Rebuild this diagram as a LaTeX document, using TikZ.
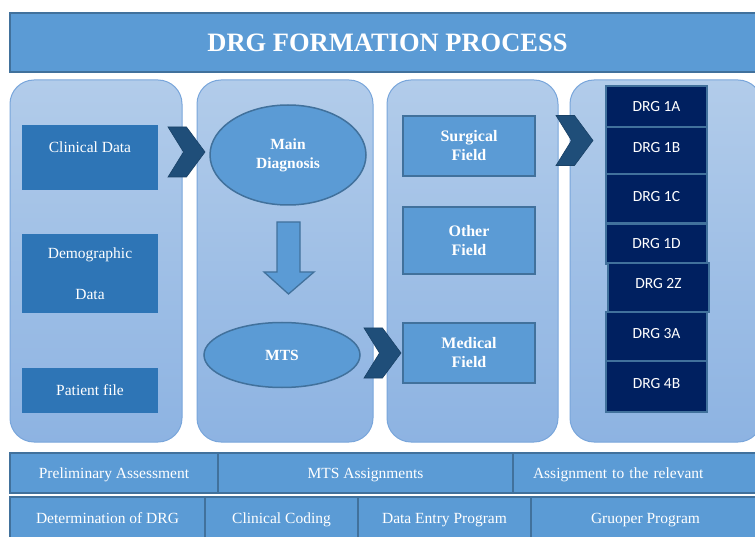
\documentclass[tikz,border=0pt]{standalone}
\usepackage{fontspec}
\setmainfont{Liberation Serif}
\newfontfamily\calib{Carlito}
\usetikzlibrary{shapes.geometric}
\definecolor{midblue}{HTML}{5B9BD5}
\definecolor{edgeblue}{HTML}{41719C}
\definecolor{boxblue}{HTML}{2E75B6}
\definecolor{navy}{HTML}{002060}
\definecolor{paneltop}{HTML}{B2CCEA}
\definecolor{panelbot}{HTML}{8DB3E2}
\definecolor{paneledge}{HTML}{79A6DB}
\definecolor{chevblue}{HTML}{1F4E79}
\begin{document}
\begin{tikzpicture}[x=1pt,y=-1pt,
  titlebar/.style={draw=edgeblue, line width=1.5pt, fill=midblue, text=white, font=\bfseries\fontsize{26.5}{30}\selectfont, inner sep=0pt},
  panel/.style={draw=paneledge, line width=1pt, rounded corners=24pt, top color=paneltop, bottom color=panelbot, minimum height=362pt, inner sep=0pt},
  databox/.style={fill=boxblue, text=white, minimum width=136pt, inner sep=0pt, align=center, font=\fontsize{15.5}{18.6}\selectfont},
  ell/.style={ellipse, draw=edgeblue, line width=1.5pt, fill=midblue, text=white, inner sep=0pt, align=center, font=\bfseries\fontsize{15.5}{19}\selectfont},
  fieldbox/.style={draw=edgeblue, line width=1.8pt, fill=midblue, text=white, minimum width=132pt, inner sep=0pt, align=center, font=\bfseries\fontsize{16}{19}\selectfont},
  drgbox/.style={draw=edgeblue, line width=1.5pt, fill=navy, text=white, minimum width=101pt, inner sep=0pt, font=\calib\fontsize{15.5}{18}\selectfont},
  cell/.style={draw=edgeblue, line width=1.5pt, fill=midblue, text=white, inner sep=0pt, font=\fontsize{15.5}{18}\selectfont},
  row1/.style={cell, minimum height=40pt, text height=11pt, text depth=0pt},
  row2/.style={cell, minimum height=44pt, text height=11pt, text depth=3pt},
  chevfill/.style={fill=chevblue, draw=chevblue!85!black, line width=0.6pt},
  arrowfill/.style={fill=midblue, draw=edgeblue, line width=1.3pt},
  chev/.pic={\path[chevfill] (-18.5,-25) -- (0,-25) -- (18.5,0) -- (0,25) -- (-18.5,25) -- (-3,0) -- cycle;}
]
\useasboundingbox (0,0) rectangle (755,537);
\fill[white] (0,0) rectangle (755,537);

% title
\node[titlebar, minimum width=755pt, minimum height=59pt] (title) at (387.5,42.5) {DRG FORMATION PROCESS};

% panels
\node[panel, minimum width=172pt] (p1) at (96,261) {};
\node[panel, minimum width=176pt] (p2) at (285,261) {};
\node[panel, minimum width=171pt] (p3) at (472.5,261) {};
\node[panel, minimum width=192pt] (p4) at (666,261) {};

% panel 1
\node[databox, minimum height=65pt, text height=11pt, text depth=20pt] (clin) at (90,157.5) {Clinical Data};
\node[databox, minimum height=79pt] (demo) at (90,273.5) {Demographic\\[22pt]Data};
\node[databox, minimum height=45pt] (pat) at (90,390.5) {Patient file};

% panel 2
\node[ell, minimum width=156pt, minimum height=100pt] (main) at (288,155) {Main\\Diagnosis};
\node[ell, minimum width=156pt, minimum height=65pt] (mts) at (282,355) {MTS};
\path[arrowfill] (277,222) -- (300,222) -- (300,272) -- (314,272) -- (288.5,294) -- (264,272) -- (277,272) -- cycle;

% panel 3
\node[fieldbox, minimum height=60pt] (surg) at (469,146) {Surgical\\Field};
\node[fieldbox, minimum height=67pt] (other) at (469,240.5) {Other\\Field};
\node[fieldbox, minimum height=60pt] (med) at (469,353) {Medical\\Field};

% panel 4
\node[drgbox, minimum height=41pt] (d1a) at (656.5,106.5) {DRG 1A};
\node[drgbox, minimum height=47pt, text height=10pt, text depth=5pt] (d1b) at (656.5,150.5) {DRG 1B};
\node[drgbox, minimum height=49pt, text height=10pt, text depth=3pt] (d1c) at (656.5,198.5) {DRG 1C};
\node[drgbox, minimum height=40pt] (d1d) at (656.5,244) {DRG 1D};
\node[drgbox, minimum height=49pt, text height=10pt, text depth=7pt] (d2z) at (658.5,287.5) {DRG 2Z};
\node[drgbox, minimum height=49pt, text height=10pt, text depth=7pt] (d3a) at (656.5,336.5) {DRG 3A};
\node[drgbox, minimum height=51pt, text height=10pt, text depth=7pt] (d4b) at (656.5,386.5) {DRG 4B};

% chevrons
\pic at (186.5,152) {chev};
\pic at (382.5,353) {chev};
\pic at (574.5,140.5) {chev};

% bottom rows
\node[row1, minimum width=208pt] (r11) at (114,473) {Preliminary Assessment};
\node[row1, minimum width=295pt] (r12) at (365.5,473) {MTS Assignments};
\node[row1, minimum width=247pt, text width=207pt, inner xsep=20pt, align=left] (r13) at (636.5,473) {Assignment to the relevant};
\node[row2, minimum width=195pt] (r21) at (107.5,519) {Determination of DRG};
\node[row2, minimum width=153pt] (r22) at (281.5,519) {Clinical Coding};
\node[row2, minimum width=173pt] (r23) at (444.5,519) {Data Entry Program};
\node[row2, minimum width=229pt] (r24) at (645.5,519) {Gruoper Program};
\end{tikzpicture}
\end{document}
